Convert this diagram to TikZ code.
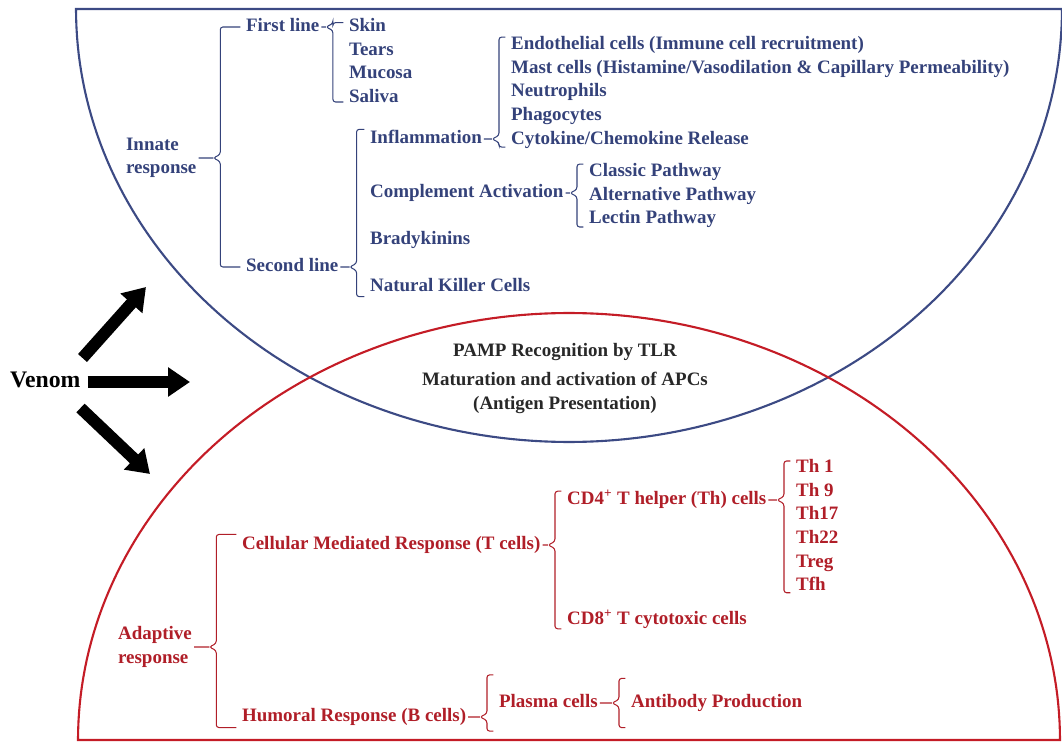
\documentclass[tikz,border=0pt]{standalone}
\usepackage{fontspec}
\setmainfont{Liberation Serif}
\usepackage{tikz}
\usetikzlibrary{arrows.meta,positioning,calc}
\definecolor{immblue}{RGB}{52,66,122}
\definecolor{immblueline}{RGB}{60,74,132}
\definecolor{immred}{RGB}{176,30,40}
\definecolor{immredline}{RGB}{196,28,38}
\definecolor{immgray}{RGB}{40,40,40}
\tikzset{
    item/.style={font=\fontsize{10.8}{13.4}\selectfont\bfseries, inner xsep=1pt, inner ysep=1.25pt, text height=8pt, text depth=2.5pt, anchor=west},
    inn/.style={text=immblue},
    adp/.style={text=immred},
    mid/.style={font=\fontsize{10.8}{13.2}\selectfont\bfseries, text=immgray, align=center},
    brk/.style={draw, line width=0.6pt, rounded corners=1.5pt},
    bigarrow/.style={draw, line width=6.8pt, -{Triangle[length=12.5pt,width=16pt]}}
}
% bracket: [colour] parent, first child, last child, gap, overhang
\newcommand{\brk}[6][immblue]{%
    \draw[brk, #1] let \p1=(#3.west), \p2=(#4.west), \p3=(#2.east) in
        (\p3) -- (\x1-#5-4pt,\y3)
        (\x1-2pt,\y1+#6) -| (\x1-#5,\y3+2pt) -- (\x1-#5-4pt,\y3) -- (\x1-#5,\y3-2pt) |- (\x1-2pt,\y2-#6);}

\begin{document}
\begin{tikzpicture}[x=0.02cm, y=-0.02cm]
    \useasboundingbox (0,0) rectangle (1062,743);

    % Innate half (top) and adaptive half (bottom)
    \draw[immblueline, line width=1.2pt] plot[domain=180:360, samples=150] ({569+493*cos(\x)},{9-433*sin(\x)}) -- cycle;
    \draw[immredline, line width=1.2pt] plot[domain=180:0, samples=150] ({569+491*cos(\x)},{740-427*sin(\x)}) -- cycle;

    % Innate response
    \node [item, inn, align=left, text height=, text depth=] (innate) at (124,158) {Innate\\response};
    \node [item, inn] (first) at (244,27) {First line};
    \node [item, inn] (second) at (244,267) {Second line};
    \node [item, inn] (skin) at (347,27) {Skin};
    \node [item, inn, below=0pt of skin.south west, anchor=north west] (tears) {Tears};
    \node [item, inn, below=0pt of tears.south west, anchor=north west] (mucosa) {Mucosa};
    \node [item, inn, below=0pt of mucosa.south west, anchor=north west] (saliva) {Saliva};
    \node [item, inn] (infl) at (368,139) {Inflammation};
    \node [item, inn] (compl) at (368,193) {Complement Activation};
    \node [item, inn] (brady) at (368,240) {Bradykinins};
    \node [item, inn] (nk) at (368,287) {Natural Killer Cells};
    \node [item, inn] (endo) at (509,45) {Endothelial cells (Immune cell recruitment)};
    \node [item, inn, below=0pt of endo.south west, anchor=north west] (mast) {Mast cells (Histamine/Vasodilation \& Capillary Permeability)};
    \node [item, inn, below=0pt of mast.south west, anchor=north west] (neutro) {Neutrophils};
    \node [item, inn, below=0pt of neutro.south west, anchor=north west] (phago) {Phagocytes};
    \node [item, inn, below=0pt of phago.south west, anchor=north west] (cyto) {Cytokine/Chemokine Release};
    \node [item, inn] (classic) at (587,172) {Classic Pathway};
    \node [item, inn, below=0pt of classic.south west, anchor=north west] (altern) {Alternative Pathway};
    \node [item, inn, below=0pt of altern.south west, anchor=north west] (lectin) {Lectin Pathway};

    \brk{innate}{first}{second}{13.5pt}{0pt}
    \brk{first}{skin}{saliva}{8pt}{2.5pt}
    \brk{second}{infl}{nk}{6.5pt}{5.5pt}
    \brk{infl}{endo}{cyto}{5.7pt}{4.5pt}
    \brk{compl}{classic}{lectin}{5.7pt}{4.5pt}

    % Shared zone
    \node [mid] (pamp) at (565,352) {PAMP Recognition by TLR};
    \node [mid] (apc) at (565,393) {Maturation and activation of APCs\\(Antigen Presentation)};

    % Venom arrows
    \node [font=\fontsize{13.5}{16}\selectfont\bfseries, anchor=west, inner sep=1pt] (venom) at (8,380) {Venom};
    \coordinate (vup) at (146,287);
    \coordinate (vmid) at (190,382);
    \coordinate (vdn) at (150,474);
    \draw[bigarrow] ([shift={(0,-22)}]venom.east) -- (vup);
    \draw[bigarrow] ([shift={(5,2)}]venom.east) -- (vmid);
    \draw[bigarrow] ([shift={(-2,28)}]venom.east) -- (vdn);

    % Adaptive response
    \node [item, adp, align=left, text height=, text depth=] (adaptive) at (116,647) {Adaptive\\response};
    \node [item, adp] (cell) at (240,545) {Cellular Mediated Response (T cells)};
    \node [item, adp] (humoral) at (240,717) {Humoral Response (B cells)};
    \node [item, adp] (cd4) at (565,500) {CD4\textsuperscript{+} T helper (Th) cells};
    \node [item, adp] (cd8) at (565,620) {CD8\textsuperscript{+} T cytotoxic cells};
    \node [item, adp] (th1) at (794,468) {Th 1};
    \node [item, adp, below=0pt of th1.south west, anchor=north west] (th9) {Th 9};
    \node [item, adp, below=0pt of th9.south west, anchor=north west] (th17) {Th17};
    \node [item, adp, below=0pt of th17.south west, anchor=north west] (th22) {Th22};
    \node [item, adp, below=0pt of th22.south west, anchor=north west] (treg) {Treg};
    \node [item, adp, below=0pt of treg.south west, anchor=north west] (tfh) {Tfh};
    \node [item, adp] (plasma) at (497,703) {Plasma cells};
    \node [item, adp] (antib) at (629,703) {Antibody Production};

    \brk[immred]{adaptive}{cell}{humoral}{13.5pt}{6pt}
    \brk[immred]{cell}{cd4}{cd8}{5.7pt}{5pt}
    \brk[immred]{cd4}{th1}{tfh}{5.7pt}{4pt}
    \brk[immred]{humoral}{plasma}{plasma}{5.7pt}{16pt}
    \brk[immred]{plasma}{antib}{antib}{5.7pt}{14pt}
\end{tikzpicture}
\end{document}
